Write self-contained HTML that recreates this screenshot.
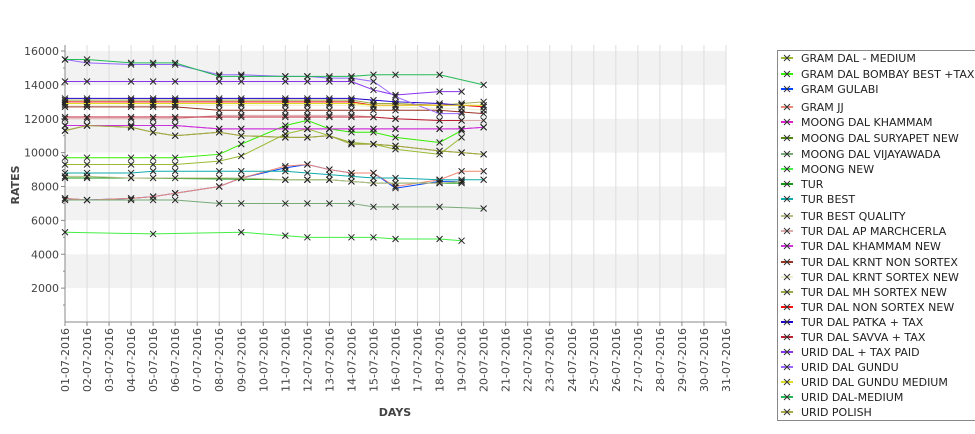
<!DOCTYPE html>
<html><head><meta charset="utf-8"><style>
body{margin:0;background:#fff;width:975px;height:429px;overflow:hidden;font-family:"Liberation Sans","DejaVu Sans",sans-serif}
svg text{font-family:"DejaVu Sans","Liberation Sans",sans-serif}
</style></head><body>
<svg id="chart" width="975" height="429" xmlns="http://www.w3.org/2000/svg">
<g id="bands"></g><g id="grid"></g><g id="axes"></g><g id="series"></g><g id="legend"></g>
</svg>
<script>
const days=[1,2,4,5,6,8,9,11,12,13,14,15,16,18,19,20];
const yTicks=[2000,4000,6000,8000,10000,12000,14000,16000];
const names=["GRAM DAL - MEDIUM","GRAM DAL BOMBAY BEST +TAX","GRAM GULABI","GRAM JJ","MOONG DAL KHAMMAM","MOONG DAL SURYAPET NEW","MOONG DAL VIJAYAWADA","MOONG NEW","TUR","TUR BEST","TUR BEST QUALITY","TUR DAL AP MARCHCERLA","TUR DAL KHAMMAM NEW","TUR DAL KRNT NON SORTEX","TUR DAL KRNT SORTEX NEW","TUR DAL MH SORTEX NEW","TUR DAL NON SORTEX NEW","TUR DAL PATKA + TAX","TUR DAL SAVVA + TAX","URID DAL + TAX PAID","URID DAL GUNDU","URID DAL GUNDU MEDIUM","URID DAL-MEDIUM","URID POLISH"];
const colors=["#99bb33","#33ee00","#0044ff","#ee8877","#dd22cc","#558811","#77aa77","#44ee44","#119911","#11aaaa","#bbbb88","#ddaaaa","#cc33dd","#993322","#eeeecc","#99aa44","#ee1111","#2200cc","#bb2233","#8833ee","#9966ff","#dddd22","#22bb55","#aaaa44"];
const s0=[9300,9300,9300,9300,9300,9500,9800,11100,11400,11000,10600,10500,10200,9900,10900,null];
const s1=[9700,9700,9700,9700,9700,9900,10500,11600,11900,11400,11200,11200,10900,10600,11300,null];
const s2=[7300,7200,7300,7400,7600,8000,8500,9100,9300,9000,8800,8800,7900,8300,8300,null];
const s3=[7300,7200,7300,7400,7600,8000,8500,9200,9300,9000,8800,8800,8000,8400,8900,8900];
const s4=[11600,11600,11600,11600,11600,11400,11400,11400,11400,11400,11400,11400,11400,11400,11400,11500];
const s5=[11300,11600,11500,11200,11000,11200,11000,10900,10900,11000,10500,10500,10400,10100,10000,9900];
const s6=[7200,7200,7200,7200,7200,7000,7000,7000,7000,7000,7000,6800,6800,6800,null,6700];
const s7=[5300,null,null,5200,null,null,5300,5100,5000,null,5000,5000,4900,4900,4800,null];
const s8=[8500,8500,8500,null,null,null,null,8400,8400,8400,8300,8200,null,8200,8200,null];
const s9=[8800,8800,8800,8900,8900,8900,8900,8900,8800,8700,8600,8500,8500,8400,8400,8400];
const s10=[8600,8600,8500,8500,8500,8500,8500,8400,8400,8400,8300,8200,8200,8200,8300,null];
const s11=[12000,12000,12000,12000,12000,12200,12200,12200,12200,12200,12200,12100,12000,11900,11900,11900];
const s12=[11600,11600,11600,11600,11600,11400,11400,11400,11400,11400,11400,11400,11400,11400,11400,11500];
const s13=[12700,12700,12700,12700,12700,12500,12500,12500,12500,12500,12500,12500,12500,12500,12400,12300];
const s14=[12800,12800,12800,12800,12800,12800,12800,12800,12800,12800,12800,12700,12700,12600,12600,12500];
const s15=[13100,13100,13100,13100,13100,13100,13100,13100,13100,13100,13100,12900,12900,12800,12900,13000];
const s16=[13000,13000,13000,13000,13000,13000,13000,13000,13000,13000,13000,12800,12800,12800,12800,12700];
const s17=[13200,13200,13200,13200,13200,13200,13200,13200,13200,13200,13200,13100,13000,12900,12800,null];
const s18=[12100,12100,12100,12100,12100,12100,12100,12100,12100,12100,12100,12100,12000,11900,11900,null];
const s19=[14200,14200,14200,14200,14200,14200,14200,14200,14200,14200,14200,13700,13400,13600,13600,null];
const s20=[15500,15300,15200,15200,15200,14600,14600,14500,14500,14400,14400,14200,13300,12300,12300,null];
const s21=[12900,12900,12900,12900,12900,12900,12900,12900,12900,12900,12900,12800,12800,12800,12800,12800];
const s22=[15500,15500,15300,15300,15300,14500,14500,14500,14500,14500,14500,14600,14600,14600,null,14000];
const s23=[11300,11600,11500,11200,11000,11200,11000,10900,10900,11000,10500,10500,10400,10100,10000,9900];
const seriesVals=[s0,s1,s2,s3,s4,s5,s6,s7,s8,s9,s10,s11,s12,s13,s14,s15,s16,s17,s18,s19,s20,s21,s22,s23];
const NS="http://www.w3.org/2000/svg";
const X0=65,X1=726,YT=45,YB=322;
const x=d=>X0+(d-1)*(X1-X0)/30;
const y=v=>YB-(v/16000)*(YB-51);
function mk(tag,attrs,parent){const e=document.createElementNS(NS,tag);for(const k in attrs)e.setAttribute(k,attrs[k]);parent.appendChild(e);return e;}
const bands=document.getElementById('bands'),grid=document.getElementById('grid'),axes=document.getElementById('axes'),ser=document.getElementById('series'),leg=document.getElementById('legend');
mk('rect',{x:X0,y:YT,width:X1-X0,height:YB-YT,fill:'#fff'},bands);
for(let v=2000;v<16000;v+=4000){
 const b=mk('rect',{x:X0,y:y(v+2000),width:X1-X0,height:y(v)-y(v+2000),fill:'#f2f2f2'},bands);
 
 
}
for(let d=1;d<=31;d++){
 mk('line',{x1:x(d),x2:x(d),y1:YT,y2:YB,stroke:'#dddddd','stroke-width':1},grid);
 mk('line',{x1:x(d),x2:x(d),y1:YB,y2:YB+4,stroke:'#888'},axes);
 const t=mk('text',{x:0,y:0,'font-size':11,fill:'#444','text-anchor':'end',transform:`translate(${x(d)+4},${YB+6}) rotate(-90)`},axes);
 t.textContent=String(d).padStart(2,'0')+'-07-2016';
 
 
}
for(const v of yTicks){
 mk('line',{x1:X0-4,x2:X0,y1:y(v),y2:y(v),stroke:'#888'},axes);
 const t=mk('text',{x:X0-6,y:y(v)+4,'font-size':11,fill:'#444','text-anchor':'end'},axes);
 t.textContent=v;
 
 
}
for(let v=1000;v<16000;v+=2000){mk('line',{x1:X0-2,x2:X0,y1:y(v),y2:y(v),stroke:'#888'},axes);}
mk('line',{x1:X0,x2:X0,y1:YT,y2:YB,stroke:'#888'},axes);
mk('line',{x1:X0,x2:X1,y1:YB,y2:YB,stroke:'#888'},axes);
let t=mk('text',{x:395,y:416,'font-size':11,'font-weight':'bold',fill:'#444','text-anchor':'middle'},axes);t.textContent='DAYS';


t=mk('text',{x:0,y:0,'font-size':11,'font-weight':'bold',fill:'#444','text-anchor':'middle',transform:'translate(19,185) rotate(-90)'},axes);t.textContent='RATES';


function cross(cx,cy,p,c){mk('path',{d:`M${cx-3},${cy-3}L${cx+3},${cy+3}M${cx-3},${cy+3}L${cx+3},${cy-3}`,stroke:c,'stroke-width':1},p);}
seriesVals.forEach((vals,i)=>{
 const g=mk('g',{},ser);
 
 
 let pts=[];
 vals.forEach((v,j)=>{if(v!=null)pts.push([x(days[j]),y(v)]);});
 if(pts.length>1)mk('polyline',{points:pts.map(p=>p.join(',')).join(' '),fill:'none',stroke:colors[i],'stroke-width':1},g);
 pts.forEach(p=>cross(p[0],p[1],g,'#222'));
});
const lb=mk('rect',{x:777.5,y:50.5,width:200,height:370,fill:'#fff',stroke:'#888'},leg);


const ly=[57,73,88,106,121,137,153,168,183,198,215,230,245,261,276,291,306,321,336,351,366,381,396,411];
names.forEach((n,i)=>{
 const g=mk('g',{},leg);
 
 
 mk('line',{x1:781,x2:793,y1:ly[i]+1,y2:ly[i]+1,stroke:colors[i],'stroke-width':2},g);
 cross(787,ly[i]+1,g,'#333');
 const tt=mk('text',{x:801,y:ly[i]+5,'font-size':11,fill:'#222'},g);tt.textContent=n;
});
</script>
</body></html>
